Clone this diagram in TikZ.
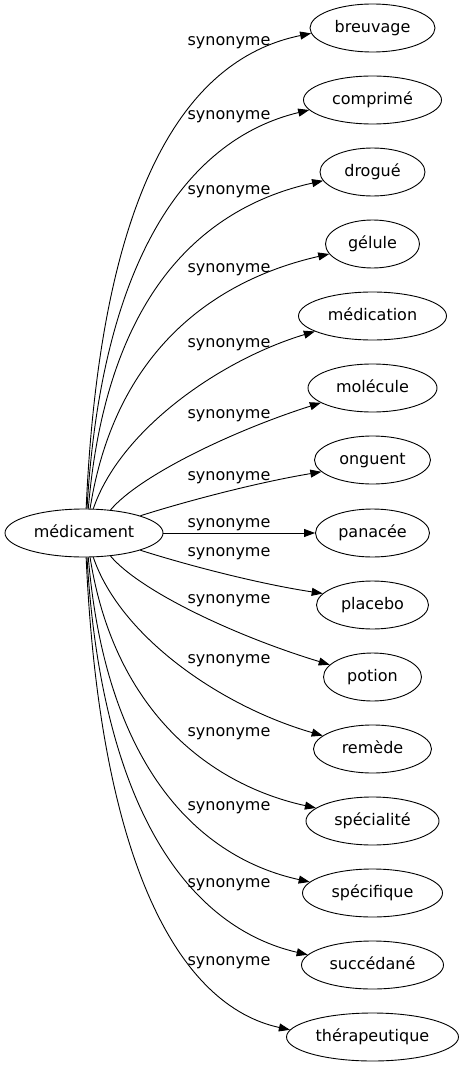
\documentclass[tikz,border=0pt]{standalone}
\usepackage{fontspec}
\setmainfont{DejaVu Sans}
\usetikzlibrary{arrows.meta,shapes.geometric}
\begin{document}
\begin{tikzpicture}[x=1pt,y=-1pt,
  every node/.style={font=\fontsize{16}{19}\selectfont},
  nd/.style={draw, ellipse, inner sep=0pt, minimum height=48pt, text height=12pt, text depth=3pt, line width=0.9pt},
  lab/.style={anchor=base, inner sep=0pt},
  syn/.style={draw, line width=0.9pt, -{Triangle[length=11pt,width=8pt]}}]
\useasboundingbox (0,0) rectangle (464,1067);
\node[nd, minimum width=158pt] (m) at (84,533) {médicament};
\node[nd, minimum width=125pt] (t1) at (372.5,28) {breuvage};
\node[nd, minimum width=138pt] (t2) at (372.5,100) {comprimé};
\node[nd, minimum width=105pt] (t3) at (372.5,172) {drogué};
\node[nd, minimum width=94pt] (t4) at (372.5,244) {gélule};
\node[nd, minimum width=148pt] (t5) at (372.5,316) {médication};
\node[nd, minimum width=129pt] (t6) at (372.5,388) {molécule};
\node[nd, minimum width=116pt] (t7) at (372.5,460) {onguent};
\node[nd, minimum width=114pt] (t8) at (372.5,533) {panacée};
\node[nd, minimum width=112pt] (t9) at (372.5,605) {placebo};
\node[nd, minimum width=98pt] (t10) at (372.5,677) {potion};
\node[nd, minimum width=118pt] (t11) at (372.5,749) {remède};
\node[nd, minimum width=133pt] (t12) at (372.5,821) {spécialité};
\node[nd, minimum width=140pt] (t13) at (372.5,893) {spécifique};
\node[nd, minimum width=142pt] (t14) at (372.5,965) {succédané};
\node[nd, minimum width=172pt] (t15) at (372.5,1037) {thérapeutique};

\draw[syn] (m.85) .. controls (100,200) and (180,60) .. (t1.185);
\draw[syn] (m.83) .. controls (102,251) and (192,138) .. (t2.189);
\draw[syn] (m.80) .. controls (106,297) and (200,208) .. (t3.190);
\draw[syn] (m.76) .. controls (115,350) and (215,280) .. (t4.193);
\draw[syn] (m.69) .. controls (120,430) and (220,360) .. (t5.195);
\draw[syn] (m.41) .. controls (140,475) and (235,430) .. (t6.196);
\draw[syn] (m.17) .. controls (190,500) and (260,482) .. (t7.193);
\draw[syn] (m) -- (t8);
\draw[syn] (m.-17) .. controls (190,566) and (260,584) .. (t9.167);
\draw[syn] (m.-41) .. controls (140,591) and (235,636) .. (t10.164);
\draw[syn] (m.-69) .. controls (120,636) and (220,706) .. (t11.165);
\draw[syn] (m.-76) .. controls (115,716) and (215,786) .. (t12.167);
\draw[syn] (m.-80) .. controls (106,769) and (200,858) .. (t13.170);
\draw[syn] (m.-83) .. controls (102,815) and (192,928) .. (t14.171);
\draw[syn] (m.-85) .. controls (100,866) and (180,1006) .. (t15.175);

\node[lab] (l1) at (229,46) {synonyme};
\node[lab] (l2) at (229,120) {synonyme};
\node[lab] (l3) at (229,195) {synonyme};
\node[lab] (l4) at (229,272) {synonyme};
\node[lab] (l5) at (229,347) {synonyme};
\node[lab] (l6) at (229,418) {synonyme};
\node[lab] (l7) at (229,480) {synonyme};
\node[lab] (l8) at (229,527) {synonyme};
\node[lab] (l9) at (229,556) {synonyme};
\node[lab] (l10) at (229,603) {synonyme};
\node[lab] (l11) at (229,663) {synonyme};
\node[lab] (l12) at (229,736) {synonyme};
\node[lab] (l13) at (229,810) {synonyme};
\node[lab] (l14) at (229,887) {synonyme};
\node[lab] (l15) at (229,965) {synonyme};
\end{tikzpicture}
\end{document}
